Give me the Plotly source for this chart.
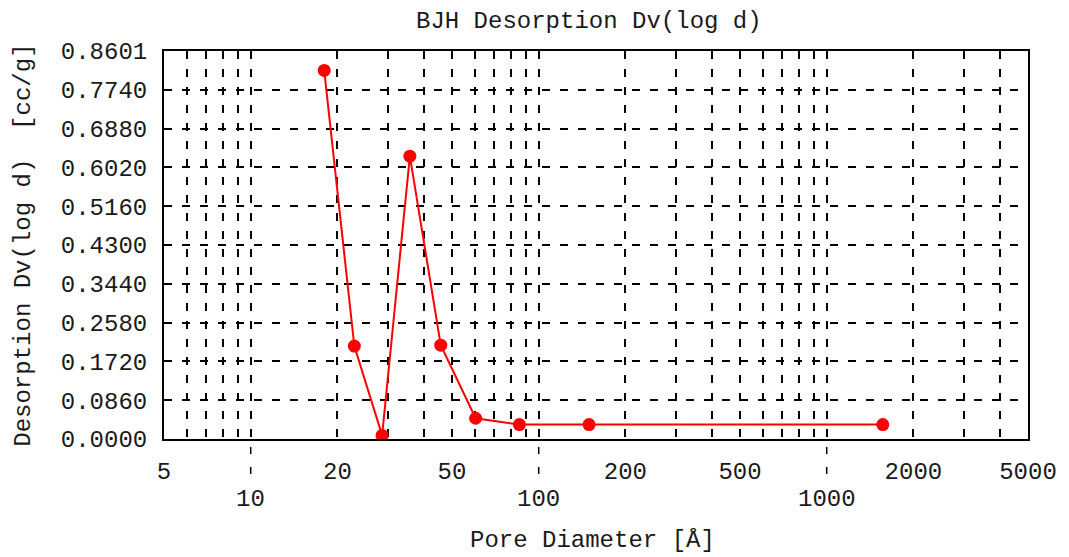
import math
import plotly.graph_objects as go

# Data
pore_diameter = [18.0, 22.9, 28.6, 35.7, 45.7, 60.4, 85.7, 149.6, 1566.0]
dv_logd = [0.817, 0.206, 0.008, 0.627, 0.208, 0.046, 0.032, 0.032, 0.032]

x_top_labels = [5, 20, 50, 200, 500, 2000, 5000]
x_bottom_labels = [10, 100, 1000]
y_tickvals = [0.0, 0.086, 0.172, 0.258, 0.344, 0.430, 0.516, 0.602, 0.688, 0.774, 0.8601]
y_ticktext = ["0.0000", "0.0860", "0.1720", "0.2580", "0.3440", "0.4300",
              "0.5160", "0.6020", "0.6880", "0.7740", "0.8601"]

FONT = "Liberation Mono, Courier New, monospace"
FS = 24
TXT = "#1a1a1a"

# all minor grid positions between 5 and 5000
grid_x = []
for dec in [1, 10, 100, 1000]:
    for m in range(1, 10):
        v = m * dec
        if 5 <= v <= 5000:
            grid_x.append(v)
grid_text = [str(v) if v in x_top_labels else "" for v in grid_x]

fig = go.Figure()
fig.add_trace(go.Scatter(
    x=pore_diameter, y=dv_logd, mode="lines+markers",
    line=dict(color="#ff0000", width=2),
    marker=dict(color="#ff0000", size=13),
    showlegend=False,
))

annotations = [
    dict(text="BJH Desorption Dv(log d)", x=0.492, y=1.075, xref="paper", yref="paper",
         showarrow=False, xanchor="center", yanchor="middle", font=dict(family=FONT, size=FS, color=TXT)),
    dict(text="Pore Diameter [Å]", x=0.4965, y=-0.262, xref="paper", yref="paper",
         showarrow=False, xanchor="center", yanchor="middle", font=dict(family=FONT, size=FS, color=TXT)),
    dict(text="Desorption Dv(log d)  [cc/g]", x=-0.1635, y=0.5, xref="paper", yref="paper",
         showarrow=False, xanchor="center", yanchor="middle", textangle=-90,
         font=dict(family=FONT, size=FS, color=TXT)),
]
for v in x_bottom_labels:
    annotations.append(dict(text=str(v), x=math.log10(v), y=-0.157, xref="x", yref="paper",
                            showarrow=False, xanchor="center", yanchor="middle",
                            font=dict(family=FONT, size=FS, color=TXT)))

shapes = []
for v in x_bottom_labels:
    shapes.append(dict(type="line", xref="x", yref="paper", x0=v, x1=v, y0=-0.0206, y1=-0.0954,
                       line=dict(color="black", width=1.5, dash="7px,13px")))

# page body has an 8px margin, so the figure is sized/margined to compensate
fig.update_layout(
    width=1061, height=549,
    margin=dict(l=156, r=37, t=43, b=118),
    paper_bgcolor="white", plot_bgcolor="white",
    font=dict(family=FONT, size=FS, color=TXT),
    annotations=annotations, shapes=shapes,
)
fig.update_xaxes(
    type="log", range=[0.69897, 3.69897],
    tickmode="array", tickvals=grid_x, ticktext=grid_text,
    showgrid=True, gridcolor="black", gridwidth=1.5, griddash="8px,10px",
    showline=True, linecolor="black", linewidth=2, mirror=True,
    ticks="", ticklabelstandoff=9, zeroline=False,
)
fig.update_yaxes(
    range=[0, 0.8601],
    tickmode="array", tickvals=y_tickvals, ticktext=y_ticktext,
    showgrid=True, gridcolor="black", gridwidth=1.5, griddash="8px,10px",
    showline=True, linecolor="black", linewidth=2, mirror=True,
    ticks="", ticklabelstandoff=10, zeroline=False,
)

fig.write_html("out.html")
